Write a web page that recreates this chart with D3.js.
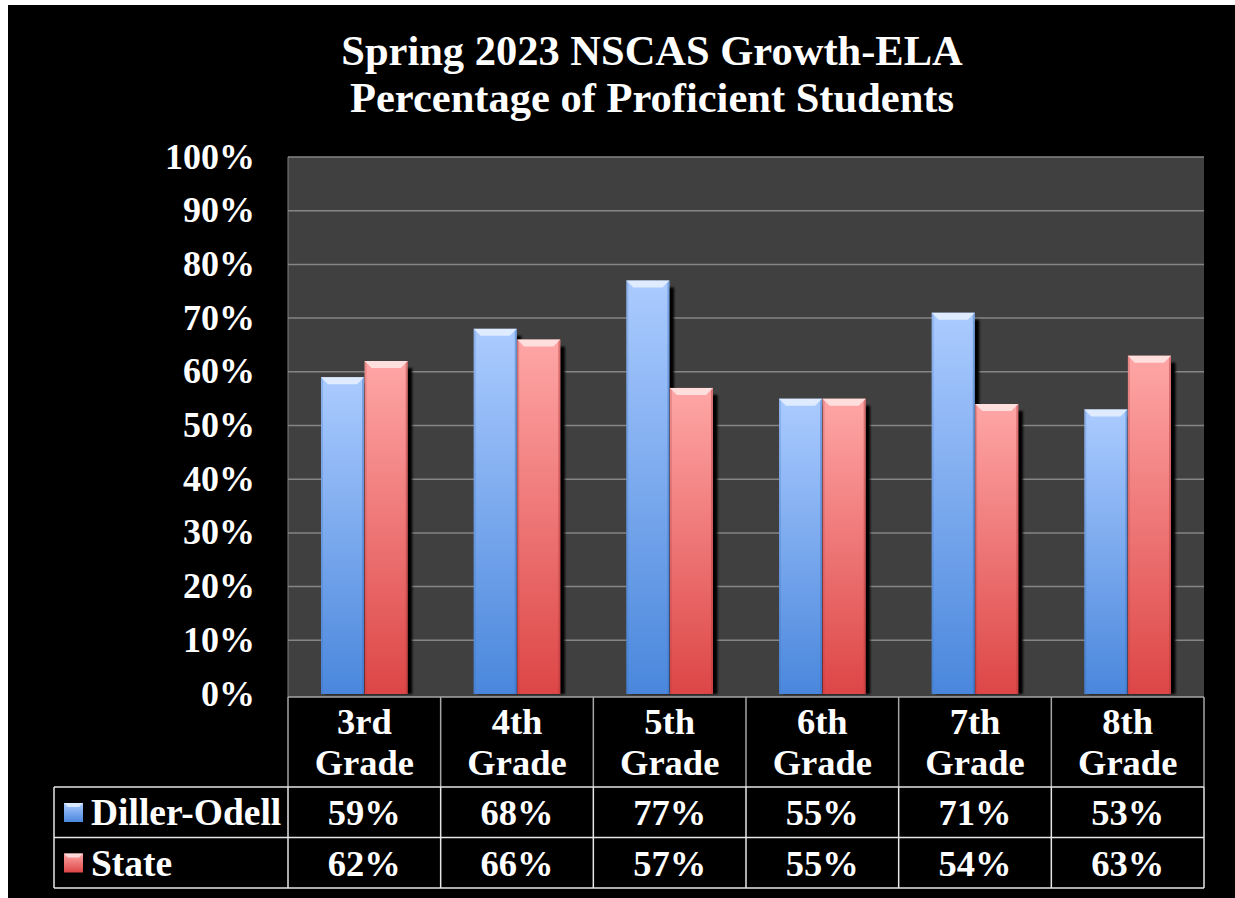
<!DOCTYPE html>
<html>
<head>
<meta charset="utf-8">
<script src="https://cdn.jsdelivr.net/npm/d3@7"></script>
<style>
  html, body { margin: 0; padding: 0; background: #fff; }
  svg { display: block; }
  text { font-family: "Liberation Serif", "Times New Roman", serif; font-weight: bold; fill: #fff; }
</style>
</head>
<body>
<script>
const categories = ['3rd Grade', '4th Grade', '5th Grade', '6th Grade', '7th Grade', '8th Grade'];
const seriesNames = ['Diller-Odell', 'State'];
const dillerOdell = [59, 68, 77, 55, 71, 53];
const state = [62, 66, 57, 55, 54, 63];
const yTicks = [0, 10, 20, 30, 40, 50, 60, 70, 80, 90, 100];
const titleLines = ['Spring 2023 NSCAS Growth-ELA', 'Percentage of Proficient Students'];

const W = 1235, H = 898;
const plot = {left: 288, right: 1204, top: 157, bottom: 694};
const table = {left: 54, top: 697, headBottom: 787, rowH: 50.5};

const palette = {
  'Diller-Odell': {top: '#abcbff', bottom: '#4a87dc', bevel: '#e4f0ff', edge: '#3a6cb8'},
  'State': {top: '#ffa6a6', bottom: '#dd4646', bevel: '#ffe4e4', edge: '#b03838'}
};

const series = [
  {name: seriesNames[0], values: dillerOdell},
  {name: seriesNames[1], values: state}
];

const svg = d3.select('body').append('svg')
  .attr('width', W)
  .attr('height', H);

const defs = svg.append('defs');

series.forEach(function (s, i) {
  const c = palette[s.name];
  const g = defs.append('linearGradient')
    .attr('id', 'grad' + i)
    .attr('x1', 0).attr('y1', 0).attr('x2', 0).attr('y2', 1);
  g.append('stop').attr('offset', '0%').attr('stop-color', c.top);
  g.append('stop').attr('offset', '100%').attr('stop-color', c.bottom);
});

defs.append('filter')
  .attr('id', 'soft')
  .append('feGaussianBlur')
  .attr('stdDeviation', 0.8);

// black chart background (white strip left/top like the screenshot)
svg.append('rect')
  .attr('x', 8).attr('y', 5)
  .attr('width', W - 8).attr('height', H - 5)
  .attr('fill', '#000');

// title
svg.append('g')
  .selectAll('text')
  .data(titleLines)
  .join('text')
  .attr('x', 652)
  .attr('y', (d, i) => 65 + i * 47)
  .attr('text-anchor', 'middle')
  .style('font-size', '42.5px')
  .text(d => d);

const x0 = d3.scaleBand()
  .domain(categories)
  .range([plot.left, plot.right])
  .padding(0);

const x1 = d3.scaleBand()
  .domain(seriesNames)
  .range([33, x0.bandwidth() - 33])
  .paddingInner(0.01);

const y = d3.scaleLinear()
  .domain([0, 100])
  .range([plot.bottom, plot.top]);

// plot area
svg.append('rect')
  .attr('x', plot.left)
  .attr('y', plot.top)
  .attr('width', plot.right - plot.left)
  .attr('height', table.top - plot.top)
  .attr('fill', '#404040');

svg.append('line')
  .attr('x1', plot.left).attr('x2', plot.left)
  .attr('y1', plot.top).attr('y2', table.top)
  .attr('stroke', '#808080');

// gridlines
svg.append('g')
  .selectAll('line')
  .data(yTicks.filter(d => d > 0))
  .join('line')
  .attr('x1', plot.left)
  .attr('x2', plot.right)
  .attr('y1', d => y(d))
  .attr('y2', d => y(d))
  .attr('stroke', '#858585')
  .attr('stroke-width', 1.5);

// y axis labels
const yAxis = d3.axisLeft(y)
  .tickValues(yTicks)
  .tickFormat(d => d + '%')
  .tickSize(0)
  .tickPadding(0);

svg.append('g')
  .attr('transform', `translate(255,0)`)
  .call(yAxis)
  .call(g => g.select('.domain').remove())
  .call(g => g.selectAll('text')
    .attr('dy', 11)
    .attr('fill', '#fff')
    .style('font-size', '36px')
    .style('font-family', '"Liberation Serif", "Times New Roman", serif')
    .style('font-weight', 'bold'));

// bars
const bevel = 7;
const groups = svg.append('g')
  .selectAll('g')
  .data(categories)
  .join('g')
  .attr('transform', d => `translate(${x0(d)},0)`);

const bars = groups.selectAll('g.bar')
  .data((d, ci) => series.map((s, si) => ({name: s.name, si, value: s.values[ci]})))
  .join('g')
  .attr('class', 'bar');

// drop shadow to the right
bars.append('rect')
  .attr('x', d => x1(d.name) + 4.5)
  .attr('y', d => y(d.value) + 7)
  .attr('width', x1.bandwidth())
  .attr('height', d => plot.bottom - y(d.value) - 7)
  .attr('fill', '#000')
  .attr('filter', 'url(#soft)');

bars.append('rect')
  .attr('x', d => x1(d.name))
  .attr('y', d => y(d.value))
  .attr('width', x1.bandwidth())
  .attr('height', d => plot.bottom - y(d.value))
  .attr('fill', d => `url(#grad${d.si})`);

// side edges
bars.append('rect')
  .attr('x', d => x1(d.name) + x1.bandwidth() - 2)
  .attr('y', d => y(d.value))
  .attr('width', 2)
  .attr('height', d => plot.bottom - y(d.value))
  .attr('fill', d => palette[d.name].edge)
  .attr('opacity', 0.45);

bars.append('rect')
  .attr('x', d => x1(d.name))
  .attr('y', d => y(d.value))
  .attr('width', 2)
  .attr('height', d => plot.bottom - y(d.value))
  .attr('fill', d => palette[d.name].edge)
  .attr('opacity', 0.25);

// top bevel
bars.append('polygon')
  .attr('points', function (d) {
    const bx = x1(d.name), by = y(d.value), w = x1.bandwidth();
    return [[bx, by], [bx + w, by], [bx + w - bevel, by + bevel], [bx + bevel, by + bevel]].join(' ');
  })
  .attr('fill', d => palette[d.name].bevel)
  .attr('opacity', 0.9);

// data table
svg.append('rect')
  .attr('x', plot.left)
  .attr('y', table.top)
  .attr('width', plot.right - plot.left)
  .attr('height', table.headBottom - table.top)
  .attr('fill', '#000');

const tbl = svg.append('g');

// header row borders (grey)
tbl.append('line')
  .attr('x1', plot.left).attr('x2', plot.right)
  .attr('y1', table.top).attr('y2', table.top)
  .attr('stroke', '#a6a6a6').attr('stroke-width', 1.5);

tbl.selectAll('line.hv')
  .data(categories.map(c => x0(c)).concat([plot.right]))
  .join('line')
  .attr('class', 'hv')
  .attr('x1', d => d).attr('x2', d => d)
  .attr('y1', table.top).attr('y2', table.headBottom)
  .attr('stroke', '#a6a6a6').attr('stroke-width', 1.5);

// data row borders (white)
const rowYs = [table.headBottom, table.headBottom + table.rowH, table.headBottom + 2 * table.rowH];
tbl.selectAll('line.hr')
  .data(rowYs)
  .join('line')
  .attr('class', 'hr')
  .attr('x1', table.left).attr('x2', plot.right)
  .attr('y1', d => d).attr('y2', d => d)
  .attr('stroke', '#e6e6e6').attr('stroke-width', 1.5);

tbl.selectAll('line.rv')
  .data([table.left].concat(categories.map(c => x0(c)), [plot.right]))
  .join('line')
  .attr('class', 'rv')
  .attr('x1', d => d).attr('x2', d => d)
  .attr('y1', table.headBottom).attr('y2', rowYs[2])
  .attr('stroke', '#e6e6e6').attr('stroke-width', 1.5);

// category labels
tbl.selectAll('text.cat')
  .data(categories)
  .join('text')
  .attr('class', 'cat')
  .attr('x', d => x0(d) + x0.bandwidth() / 2)
  .attr('y', 734)
  .attr('text-anchor', 'middle')
  .style('font-size', '36.5px')
  .selectAll('tspan')
  .data(d => d.split(' '))
  .join('tspan')
  .attr('x', function () { return d3.select(this.parentNode).attr('x'); })
  .attr('dy', (d, i) => i ? 41 : 0)
  .text(d => d);

// series rows
const rows = tbl.selectAll('g.row')
  .data(series)
  .join('g')
  .attr('class', 'row')
  .attr('transform', (d, i) => `translate(0,${rowYs[i]})`);

rows.append('rect')
  .attr('x', 64).attr('y', 16)
  .attr('width', 19).attr('height', 19)
  .attr('fill', (d, i) => `url(#grad${i})`);

rows.append('polygon')
  .attr('points', [[64, 16], [83, 16], [79, 20], [68, 20]].join(' '))
  .attr('fill', d => palette[d.name].bevel)
  .attr('opacity', 0.85);

rows.append('text')
  .attr('x', 91)
  .attr('y', 38)
  .style('font-size', '37.5px')
  .text(d => d.name);

rows.selectAll('text.val')
  .data(d => d.values)
  .join('text')
  .attr('class', 'val')
  .attr('x', (d, i) => x0(categories[i]) + x0.bandwidth() / 2)
  .attr('y', 38)
  .attr('text-anchor', 'middle')
  .style('font-size', '36.5px')
  .text(d => d + '%');
</script>
</body>
</html>
